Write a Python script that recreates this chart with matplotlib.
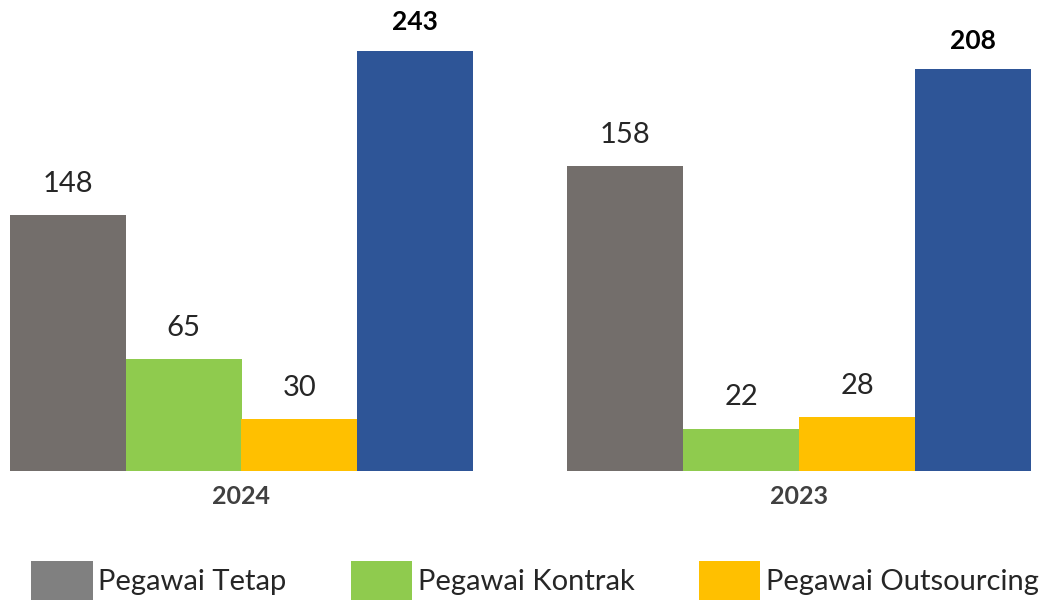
import matplotlib.pyplot as plt
from matplotlib.patches import Patch

# data
years = ["2024", "2023"]
series = ["Pegawai Tetap", "Pegawai Kontrak", "Pegawai Outsourcing", "Total"]
tetap = [148, 158]
kontrak = [65, 22]
outsourcing = [30, 28]
total = [243, 208]

colors = ["#736e6b", "#8fcb4e", "#ffc000", "#2e5597"]
legend_colors = ["#808080", "#8fcb4e", "#ffc000"]

plt.rcParams['font.family'] = ['Lato', 'DejaVu Sans']

fig = plt.figure(figsize=(10.43, 6.0), dpi=100)
W, H = 1043, 600

# each year was its own little chart, so each gets its own axes
ax_px = [(10, 473), (567, 1031)]
ytops = [272.6, 244.0]
base = 471

for i, year in enumerate(years):
    x0, x1 = ax_px[i]
    ax = fig.add_axes([x0 / W, (H - base) / H, (x1 - x0) / W, base / H])
    vals = [tetap[i], kontrak[i], outsourcing[i], total[i]]
    xs = list(range(len(vals)))
    ax.bar(xs, vals, width=1.0, color=colors, linewidth=0)
    for j, (x, v) in enumerate(zip(xs, vals)):
        if j == 3:
            ax.annotate(str(v), (x, v), xytext=(0, 12), textcoords='offset points',
                        ha='center', va='bottom', fontsize=19, fontweight='bold',
                        color='black')
        else:
            ax.annotate(str(v), (x, v), xytext=(0, 13), textcoords='offset points',
                        ha='center', va='bottom', fontsize=21, color='#262626')
    ax.set_xlim(-0.5, 3.5)
    ax.set_ylim(0, ytops[i])
    ax.set_xticks([1.5])
    ax.set_xticklabels([year], fontsize=18, fontweight='bold', color='#404040')
    ax.tick_params(axis='x', length=0, pad=10)
    ax.set_yticks([])
    for s in ax.spines.values():
        s.set_visible(False)
    ax.patch.set_alpha(0)

handles = [Patch(facecolor=c, linewidth=0) for c in legend_colors]
fig.legend(handles, series[:3], loc='center',
           bbox_to_anchor=(0.513, 0.033), ncol=3, frameon=False,
           fontsize=21, handlelength=2.1, handleheight=1.7,
           handletextpad=0.2, columnspacing=2.2, labelcolor='#262626')

fig.savefig("out.png", dpi=100)
